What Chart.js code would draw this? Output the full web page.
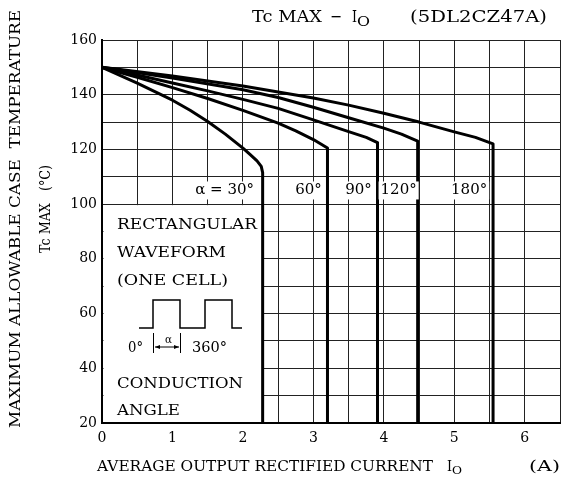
<!DOCTYPE html>
<html>
<head>
<meta charset="utf-8">
<script src="https://cdn.jsdelivr.net/npm/chart.js@4/dist/chart.umd.min.js"></script>
<style>
  html, body { margin: 0; padding: 0; background: #fff; }
  #wrap { width: 562px; height: 488px; }
</style>
</head>
<body>
<div id="wrap"><canvas id="chart" width="562" height="488"></canvas></div>
<script>
// Tc MAX - Io curves for 5DL2CZ47A

// conduction angle 30
var io30 = [0, 0.5, 1, 1.25, 1.5, 1.75, 2, 2.1, 2.2, 2.26, 2.28, 2.28];
var tc30 = [150, 144.2, 138, 134.3, 130.2, 125.6, 120.5, 118.2, 115.8, 113.8, 111.5, 20];
// 60
var io60 = [0, 0.5, 1, 1.5, 2, 2.5, 2.75, 3, 3.2, 3.2];
var tc60 = [150, 146.4, 142.6, 138.6, 134.3, 129.6, 126.8, 123.6, 120.5, 20];
// 90
var io90 = [0, 0.5, 1, 1.5, 2, 2.5, 3, 3.5, 3.75, 3.91, 3.91];
var tc90 = [150, 147.2, 144.3, 141.4, 138.3, 135, 130.8, 126.5, 124.4, 122.5, 20];
// 120
var io120 = [0, 1, 2, 2.5, 3, 3.5, 4, 4.25, 4.48, 4.48];
var tc120 = [150, 146.1, 141.8, 139, 135.4, 131.6, 127.8, 125.6, 123, 20];
// 180
var io180 = [0, 1, 2, 3, 3.5, 4, 4.5, 5, 5.3, 5.55, 5.55];
var tc180 = [150, 146.8, 143.2, 138.8, 136.2, 133.2, 130, 126.4, 124.4, 122, 20];

// curve labels (text + position in data units)
var curveLabels = ['\u03b1 = 30\u00b0', '60\u00b0', '90\u00b0', '120\u00b0', '180\u00b0'];
var curveLabelX = [1.74, 2.93, 3.64, 4.21, 5.21];
var curveLabelY = 105;

// axis ranges / ticks
var xMin = 0, xMax = 6.5, xStep = 0.5;
var yMin = 20, yMax = 160, yStep = 10;

// white note box sits in the lower left corner, up to the 30 deg line
var insetRight = 2.28;
var insetTop = 100;

var SERIF = '"DejaVu Serif", "Liberation Serif", serif';

function toPoints(xs, ys) {
    return xs.map(function (v, i) { return { x: v, y: ys[i] }; });
}

function makeSet(label, xs, ys) {
    return {
        label: label,
        data: toPoints(xs, ys),
        showLine: true,
        borderColor: '#000',
        backgroundColor: '#000',
        borderWidth: 3,
        pointRadius: 0,
        tension: 0,
        borderJoinStyle: 'round',
        borderCapStyle: 'butt'
    };
}

// draw text squeezed/stretched to a given width
function fitText(ctx, text, x, y, width, size) {
    ctx.save();
    ctx.font = size + 'px ' + SERIF;
    var w = ctx.measureText(text).width;
    ctx.translate(x, y);
    ctx.scale(width / w, 1);
    ctx.textAlign = 'left';
    ctx.textBaseline = 'alphabetic';
    ctx.fillText(text, 0, 0);
    ctx.restore();
}

// inset box goes under the curves
var insetBox = {
    id: 'insetBox',
    beforeDatasetsDraw: function (chart) {
        var ctx = chart.ctx, xs = chart.scales.x, ys = chart.scales.y;
        var l = xs.getPixelForValue(0) + 1.5;
        var r = xs.getPixelForValue(insetRight);
        var t = ys.getPixelForValue(insetTop) + 1;
        var b = ys.getPixelForValue(yMin) - 1;
        ctx.save();
        ctx.fillStyle = '#fff';
        ctx.fillRect(l, t, r - l, b - t);
        ctx.restore();
    }
};

// all the other text + the waveform sketch
var annotations = {
    id: 'annotations',
    afterDraw: function (chart) {
        var ctx = chart.ctx, xs = chart.scales.x, ys = chart.scales.y;
        ctx.save();
        ctx.fillStyle = '#000';
        ctx.strokeStyle = '#000';

        // title
        fitText(ctx, 'Tc MAX', 252, 22, 70, 17);
        fitText(ctx, '\u2212', 330, 22, 12, 17);
        fitText(ctx, 'I', 352, 22, 5, 17);
        fitText(ctx, 'O', 357, 26, 13, 13);
        fitText(ctx, '(5DL2CZ47A)', 410, 22, 137, 17);

        // x axis title
        fitText(ctx, 'AVERAGE OUTPUT RECTIFIED CURRENT', 97, 471, 336, 14);
        fitText(ctx, 'I', 447, 471, 5, 14);
        fitText(ctx, 'O', 452, 474, 10, 11);
        fitText(ctx, '(A)', 529, 471, 31, 14);

        // y axis title (rotated)
        ctx.save();
        ctx.translate(20, 219);
        ctx.rotate(-Math.PI / 2);
        fitText(ctx, 'MAXIMUM ALLOWABLE CASE  TEMPERATURE', -209, 0, 418, 14);
        ctx.restore();
        ctx.save();
        ctx.translate(50, 209);
        ctx.rotate(-Math.PI / 2);
        fitText(ctx, 'Tc MAX   (\u00b0C)', -44, 0, 88, 14);
        ctx.restore();

        // curve labels with white background
        ctx.font = '15px ' + SERIF;
        ctx.textAlign = 'center';
        ctx.textBaseline = 'middle';
        curveLabels.forEach(function (txt, i) {
            var px = xs.getPixelForValue(curveLabelX[i]);
            var py = ys.getPixelForValue(curveLabelY);
            var w = ctx.measureText(txt).width;
            ctx.fillStyle = '#fff';
            ctx.fillRect(px - w / 2 - 2, py - 9, w + 4, 18);
            ctx.fillStyle = '#000';
            ctx.fillText(txt, px, py);
        });

        // note box text
        var bx = xs.getPixelForValue(0);
        fitText(ctx, 'RECTANGULAR', bx + 15, 229, 140, 15);
        fitText(ctx, 'WAVEFORM', bx + 15, 257, 109, 15);
        fitText(ctx, '(ONE CELL)', bx + 15, 285, 111, 15);
        fitText(ctx, 'CONDUCTION', bx + 15, 388, 126, 15);
        fitText(ctx, 'ANGLE', bx + 15, 415, 63, 15);

        // waveform sketch
        var lowY = 328, highY = 300;
        ctx.lineWidth = 1.5;
        ctx.beginPath();
        ctx.moveTo(bx + 37, lowY);
        ctx.lineTo(bx + 51, lowY);
        ctx.lineTo(bx + 51, highY);
        ctx.lineTo(bx + 78, highY);
        ctx.lineTo(bx + 78, lowY);
        ctx.lineTo(bx + 103, lowY);
        ctx.lineTo(bx + 103, highY);
        ctx.lineTo(bx + 130, highY);
        ctx.lineTo(bx + 130, lowY);
        ctx.lineTo(bx + 140, lowY);
        ctx.stroke();

        // alpha marker
        ctx.lineWidth = 1;
        ctx.beginPath();
        ctx.moveTo(bx + 51.5, 333); ctx.lineTo(bx + 51.5, 353);
        ctx.moveTo(bx + 78.5, 333); ctx.lineTo(bx + 78.5, 353);
        ctx.moveTo(bx + 53, 347); ctx.lineTo(bx + 77, 347);
        ctx.stroke();
        ctx.beginPath();
        ctx.moveTo(bx + 53, 347); ctx.lineTo(bx + 58, 345); ctx.lineTo(bx + 58, 349); ctx.closePath();
        ctx.moveTo(bx + 77, 347); ctx.lineTo(bx + 72, 345); ctx.lineTo(bx + 72, 349); ctx.closePath();
        ctx.fill();
        fitText(ctx, '\u03b1', bx + 63, 343, 7, 11);
        fitText(ctx, '0\u00b0', bx + 26, 352, 15, 15);
        fitText(ctx, '360\u00b0', bx + 90, 352, 35, 15);

        ctx.restore();
    }
};

var chart = new Chart(document.getElementById('chart'), {
    type: 'scatter',
    data: {
        datasets: [
            makeSet('30', io30, tc30),
            makeSet('60', io60, tc60),
            makeSet('90', io90, tc90),
            makeSet('120', io120, tc120),
            makeSet('180', io180, tc180)
        ]
    },
    options: {
        responsive: false,
        animation: false,
        devicePixelRatio: 1,
        layout: { padding: { left: 0, right: 2, top: 40, bottom: 0 } },
        plugins: {
            legend: { display: false },
            title: { display: false },
            tooltip: { enabled: false }
        },
        scales: {
            x: {
                type: 'linear',
                min: xMin,
                max: xMax,
                ticks: {
                    stepSize: xStep,
                    color: '#000',
                    padding: 7,
                    maxRotation: 0,
                    autoSkip: false,
                    font: { family: SERIF, size: 14 },
                    callback: function (v) { return Number.isInteger(v) ? v : ''; }
                },
                grid: { color: '#222', lineWidth: 1, drawTicks: false },
                border: { display: true, color: '#000', width: 2 },
                afterFit: function (scale) {
                    scale.height = 65;
                    scale.paddingLeft = 0;
                    scale.paddingRight = 0;
                }
            },
            y: {
                type: 'linear',
                min: yMin,
                max: yMax,
                ticks: {
                    stepSize: yStep,
                    color: '#000',
                    padding: 5,
                    autoSkip: false,
                    font: { family: SERIF, size: 14 },
                    callback: function (v) { return v % 20 === 0 ? v : ''; }
                },
                grid: { color: '#222', lineWidth: 1, drawTicks: false },
                border: { display: true, color: '#000', width: 2 },
                afterFit: function (scale) {
                    scale.width = 102;
                    scale.paddingTop = 0;
                    scale.paddingBottom = 0;
                }
            }
        }
    },
    plugins: [insetBox, annotations]
});
</script>
</body>
</html>
